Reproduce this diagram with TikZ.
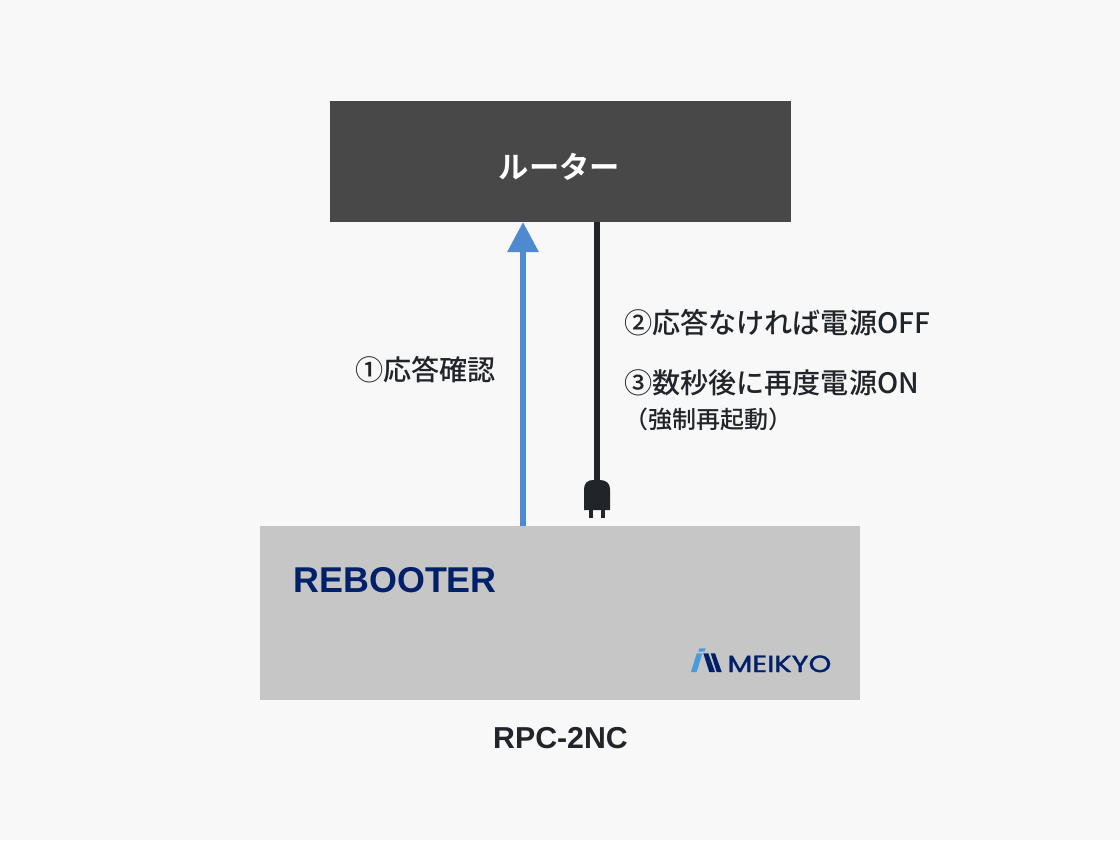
\documentclass[tikz,border=0pt]{standalone}
\usepackage{fontspec}
\usetikzlibrary{arrows.meta}
\setmainfont{Noto Sans CJK JP}
\newfontfamily\jpbold{Noto Sans CJK JP Bold}
\newfontfamily\jpmed{Noto Sans CJK JP Medium}
\newfontfamily\latinbold{Liberation Sans Bold}
\newfontfamily\logofont{Poppins}[FakeBold=1.4]
\definecolor{bgc}{HTML}{F8F8F8}
\definecolor{routerc}{HTML}{484848}
\definecolor{devc}{HTML}{C6C6C6}
\definecolor{inkc}{HTML}{212529}
\definecolor{bluec}{HTML}{4F8AD0}
\definecolor{navyc}{HTML}{002169}
\definecolor{logoblue}{HTML}{4A9BDC}
\tikzset{
  x=0.75pt,y=-0.75pt,
  boxnode/.style={inner sep=0,outer sep=0,draw=none},
  lbl/.style={inner sep=0,outer sep=0,anchor=base west,text=inkc,font=\jpmed\fontsize{21.1pt}{24pt}\selectfont},
  smalllbl/.style={inner sep=0,outer sep=0,anchor=base west,text=inkc,font=\jpmed\fontsize{18pt}{20pt}\selectfont},
}
\begin{document}
\begin{tikzpicture}
\useasboundingbox[fill=bgc] (0,0) rectangle (1120,840);
\node[boxnode,fill=routerc,minimum width=346pt,minimum height=90.75pt,anchor=north west] (router) at (329.5,101) {};
\node[inner sep=0,outer sep=0,anchor=base,text=white,font=\jpbold\fontsize{22.7pt}{24pt}\selectfont] (routerlabel) at (559.5,178) {ルーター};
\node[boxnode,fill=devc,minimum width=450pt,minimum height=130.5pt,anchor=north west] (device) at (260,526) {};
\coordinate (replyfoot) at (523,526);
\coordinate (replyhead) at (523,222);
\coordinate (powertop) at (597,222);
\coordinate (plugtop) at (597,482);
\draw[bluec,line width=4.5pt,-{Triangle[length=22.5pt,width=22.5pt]}] (replyfoot) -- (replyhead);
\draw[inkc,line width=4.5pt] (powertop) -- (plugtop);
% plug
\fill[inkc] (584,510) -- (584,489) .. controls (584,483) and (588,480) .. (593,480) -- (600,480) .. controls (605.5,480) and (610,483) .. (610,489) -- (610,510) -- cycle;
\fill[inkc] (588.7,509) rectangle (593.3,517.5);
\fill[inkc] (600.7,509) rectangle (605.3,517.5);
% labels
\node[lbl] (t1) at (355,380) {①応答確認};
\node[lbl] (t2) at (624,333) {②応答なければ電源OFF};
\node[lbl] (t3) at (624,393) {③数秒後に再度電源ON};
\node[smalllbl] (t4) at (624,428) {（強制再起動）};
\node[inner sep=0,outer sep=0,anchor=base west,text=navyc,font=\latinbold\fontsize{26.9pt}{30pt}\selectfont] (rebooter) at (293.5,592.5) {REBOOTER};
\node[inner sep=0,outer sep=0,anchor=base,text=inkc,font=\latinbold\fontsize{22.7pt}{24pt}\selectfont] (model) at (560.5,748.3) {RPC-2NC};
% logo
\fill[logoblue] (691,672) -- (696.7,672) -- (702.3,653.3) -- (696.7,653.3) -- cycle;
\fill[logoblue] (699.3,648.3) -- (705.7,648.3) -- (704.3,651.7) -- (698.3,651.7) -- cycle;
\fill[navyc] (703.3,653.3) -- (708.3,653.3) -- (715,672) -- (709.3,672) -- cycle;
\fill[navyc] (710.7,653.3) -- (715,653.3) -- (721.7,672) -- (716.7,672) -- cycle;
\node[inner sep=0,outer sep=0,anchor=base west,text=navyc,font=\logofont\fontsize{17.5pt}{20pt}\selectfont] (logo) at (727.5,672) {\scalebox{1.24}[1]{MEIKYO}};
\end{tikzpicture}
\end{document}
